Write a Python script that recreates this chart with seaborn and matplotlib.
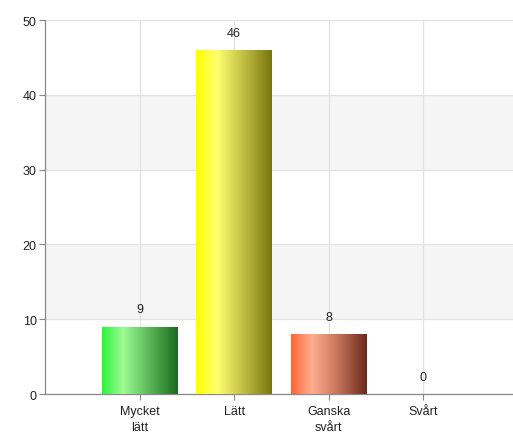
import numpy as np
import pandas as pd
import matplotlib
matplotlib.use("Agg")
import matplotlib.pyplot as plt
from matplotlib.colors import LinearSegmentedColormap
import seaborn as sns

categories = ["Mycket\nlätt", "Lätt", "Ganska\nsvårt", "Svårt"]
counts = [9, 46, 8, 0]
bar_gradients = [
    ["#2ef23a", "#9dfb95", "#5cb85a", "#1b6a1f"],
    ["#ffff00", "#ffff70", "#c4bf45", "#77760f"],
    ["#ff6535", "#ffae90", "#c6735c", "#6a2b18"],
    ["#dddddd", "#eeeeee", "#aaaaaa", "#666666"],
]

sns.set_theme(style="white")
plt.rcParams["font.family"] = ["Liberation Sans", "DejaVu Sans"]

df = pd.DataFrame({"kategori": categories, "antal": counts})

fig = plt.figure(figsize=(5.13, 4.39), dpi=100)
ax = fig.add_axes([0.0877, 0.1002, 0.9123, 0.8519])

sns.barplot(data=df, x="kategori", y="antal", width=0.8, ax=ax,
            color="white", saturation=1, zorder=2)
bars = list(ax.containers[0])

ax.set_xlim(-1, 3.95)
ax.set_ylim(0, 50)

# alternating horizontal bands
for lo, hi in [(10, 20), (30, 40)]:
    ax.fill_between([-1, 3.95], lo, hi, color="#f5f5f5", zorder=0, lw=0)

# horizontal gradient fill for each bar
for patch, cols in zip(bars, bar_gradients):
    x0, y0 = patch.get_x(), patch.get_y()
    w, h = patch.get_width(), patch.get_height()
    if h <= 0:
        patch.set_visible(False)
        continue
    cmap = LinearSegmentedColormap.from_list("g", list(zip([0, 0.28, 0.62, 1.0], cols)))
    grad = np.linspace(0, 1, 256).reshape(1, -1)
    im = ax.imshow(grad, cmap=cmap, aspect="auto", extent=(x0, x0 + w, y0, y0 + h),
                   zorder=3, interpolation="bilinear")
    patch.set_facecolor("none")
    patch.set_edgecolor("none")
    im.set_clip_path(patch)

ax.set_xlim(-1, 3.95)
ax.set_ylim(0, 50)

# value labels above bars
for i, v in enumerate(counts):
    ax.text(i, v + 2.3, str(v), ha="center", va="center", fontsize=9,
            color="#222222", zorder=4)

ax.set_yticks(range(0, 51, 10))
ax.set_xticks(range(len(categories)))
ax.set_xticklabels(categories, fontsize=9, color="#222222", linespacing=1.45)
ax.tick_params(axis="y", labelsize=9, labelcolor="#222222", length=4,
               width=0.8, color="#888888", left=True, pad=2)
ax.tick_params(axis="x", length=4, width=0.8, color="#888888", bottom=True, pad=4)

ax.grid(True, color="#e2e2e2", lw=0.9, zorder=1)
ax.set_axisbelow(True)

for s in ["top", "right"]:
    ax.spines[s].set_visible(False)
for s in ["left", "bottom"]:
    ax.spines[s].set_color("#888888")
    ax.spines[s].set_linewidth(0.9)

ax.set_xlabel("")
ax.set_ylabel("")

fig.savefig("out.png", dpi=100)
